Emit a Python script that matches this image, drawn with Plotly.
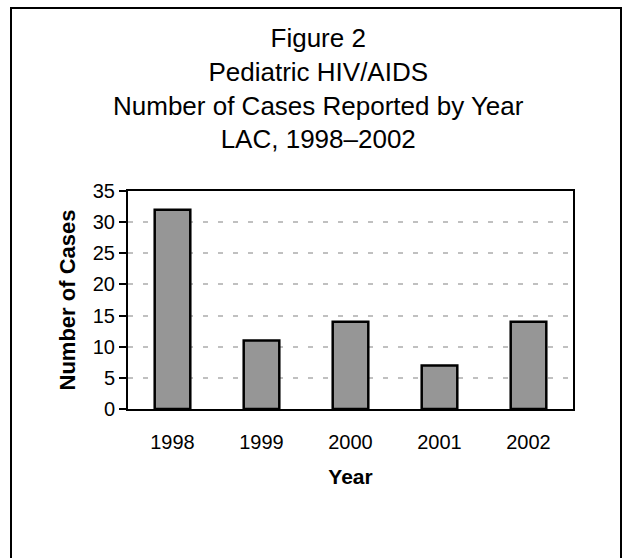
import plotly.graph_objects as go

years = ["1998", "1999", "2000", "2001", "2002"]
cases = [32, 11, 14, 7, 14]
y_ticks = [0, 5, 10, 15, 20, 25, 30, 35]
title_lines = ["Figure 2", "Pediatric HIV/AIDS", "Number of Cases Reported by Year", "LAC, 1998–2002"]

W, H = 623, 558
L, R, T, B = 128, 50, 191, 149
pw, ph = W - L - R, H - T - B

FONT = "Arial, Liberation Sans, sans-serif"

fig = go.Figure(go.Bar(
    x=years, y=cases,
    marker=dict(color="#969696", line=dict(color="black", width=2.5)),
    width=0.4,
))

def px_x(p):
    return (p - L) / pw

def px_y(p):
    return (H - B - p) / ph

fig.update_layout(
    width=W, height=H,
    margin=dict(l=L, r=R, t=T, b=B),
    paper_bgcolor="white", plot_bgcolor="white",
    font=dict(family=FONT, color="black", size=20),
    showlegend=False,
    xaxis=dict(
        showline=True, linecolor="black", linewidth=2, mirror=True,
        ticks="", showgrid=False, ticklabelstandoff=14,
        title=dict(text="<b>Year</b>", font=dict(size=21), standoff=17),
    ),
    yaxis=dict(
        range=[0, 35], tickvals=y_ticks,
        showline=True, linecolor="black", linewidth=2, mirror=True,
        ticks="outside", ticklen=7, tickwidth=2, tickcolor="black",
        showgrid=True, gridcolor="#c0c0c0", gridwidth=2, griddash="5px,10px",
        zeroline=False,
        title=dict(text="<b>Number of Cases</b>", font=dict(size=22), standoff=11),
    ),
    annotations=[dict(
        text="<br>".join(title_lines),
        xref="paper", yref="paper", x=px_x(318), y=px_y(88),
        xanchor="center", yanchor="middle", showarrow=False,
        font=dict(size=26, family=FONT, color="black"),
    )],
    shapes=[dict(
        type="rect", xref="paper", yref="paper",
        x0=px_x(11), x1=px_x(621), y0=px_y(580), y1=px_y(8),
        line=dict(color="black", width=2), fillcolor="rgba(0,0,0,0)", layer="above",
    )],
)

fig.write_html(
    "out.html",
    config={"displayModeBar": False},
    post_script="document.body.style.margin='0';document.body.style.overflow='hidden';",
)
